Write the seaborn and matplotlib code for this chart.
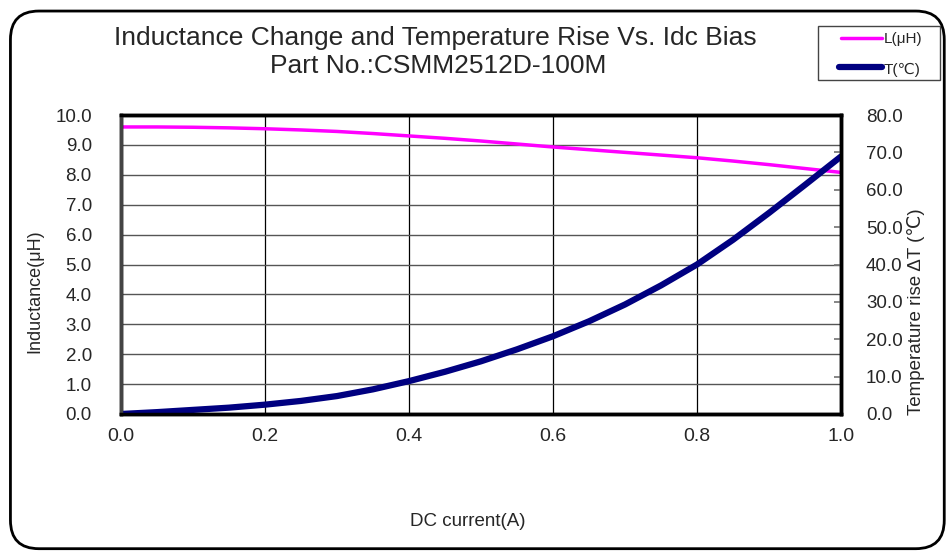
import matplotlib
matplotlib.use("Agg")
import matplotlib.pyplot as plt
import seaborn as sns
import pandas as pd
from matplotlib.patches import FancyBboxPatch, Rectangle
from matplotlib.lines import Line2D

current = [0.00, 0.05, 0.10, 0.15, 0.20, 0.25, 0.30, 0.35, 0.40, 0.45, 0.50,
           0.55, 0.60, 0.65, 0.70, 0.75, 0.80, 0.85, 0.90, 0.95, 1.00]
inductance = [9.60, 9.60, 9.59, 9.57, 9.54, 9.50, 9.45, 9.38, 9.30, 9.22, 9.13,
              9.03, 8.93, 8.84, 8.75, 8.66, 8.57, 8.46, 8.34, 8.21, 8.08]
temp_rise = [0.0, 0.5, 1.1, 1.7, 2.5, 3.5, 4.8, 6.6, 8.8, 11.3, 14.1,
             17.3, 20.8, 24.8, 29.3, 34.4, 40.0, 46.6, 53.8, 61.3, 68.9]

x_ticks = [0.0, 0.2, 0.4, 0.6, 0.8, 1.0]
l_ticks = [0, 1, 2, 3, 4, 5, 6, 7, 8, 9, 10]
t_ticks = [0, 10, 20, 30, 40, 50, 60, 70, 80]

df = pd.DataFrame({"I": current, "L": inductance, "T": temp_rise})

sns.set_theme(style="white")
plt.rcParams['font.family'] = ['Liberation Sans', 'DejaVu Sans']
NARROW = ['Liberation Sans Narrow', 'Liberation Sans', 'DejaVu Sans']

W, H = 949, 552
fig = plt.figure(figsize=(W / 100, H / 100), dpi=100)
border = FancyBboxPatch((0.011, 0.006), 0.984, 0.974, boxstyle="round,pad=0,rounding_size=0.03",
                        transform=fig.transFigure, fill=False, edgecolor="black", linewidth=2.0,
                        mutation_aspect=W / H)
fig.patches.append(border)

ax = fig.add_axes([121 / W, 1 - 414 / H, 720 / W, 299 / H])
ax2 = ax.twinx()

sns.lineplot(data=df, x="I", y="L", ax=ax, color="#FF00FF", linewidth=2.5, legend=False)
sns.lineplot(data=df, x="I", y="T", ax=ax2, color="#000080", linewidth=4.5, legend=False)

ax.set_xlim(0, 1.0)
ax.set_ylim(0, 10)
ax2.set_ylim(0, 80)
ax.set_xticks(x_ticks)
ax.set_yticks(l_ticks)
ax2.set_yticks(t_ticks)
ax.set_xticklabels([f"{v:.1f}" for v in x_ticks], family=NARROW, fontsize=14)
ax.set_yticklabels([f"{v:.1f}" for v in l_ticks], fontsize=13.5)
ax2.set_yticklabels([f"{v:.1f}" for v in t_ticks], fontsize=13.5)
ax.set_xlabel("")
ax.set_ylabel("")
ax2.set_ylabel("")

for x in x_ticks[1:-1]:
    ax.axvline(x, color="black", linewidth=0.9, zorder=0)
for y in l_ticks[1:-1]:
    ax.axhline(y, color="#555555", linewidth=1.0, zorder=0)

ax.tick_params(axis="y", length=0, pad=21)
ax.tick_params(axis="x", length=0, pad=10)
ax2.tick_params(axis="y", direction="in", length=5, pad=18, color="#777777")

for s in ax.spines.values():
    s.set_linewidth(2.5)
    s.set_color("black")
for s in ax2.spines.values():
    s.set_linewidth(2.5)
    s.set_color("black")
ax2.spines["left"].set_color("#444444")

fig.text(468 / W, 1 - 522 / H, "DC current(A)", ha="center", va="center", fontsize=13.5, family=NARROW)
fig.text(35 / W, 1 - 291 / H, "Inductance(μH)", ha="center", va="center", rotation=90,
         fontsize=13, family=NARROW)
fig.text(916 / W, 1 - 312 / H, "Temperature rise ΔT (℃)", ha="center", va="center", rotation=90,
         fontsize=13.5, family=['Liberation Sans', 'DejaVu Sans'])

fig.text(435 / W, 1 - 38 / H, "Inductance Change and Temperature Rise Vs. Idc Bias",
         ha="center", va="center", fontsize=19)
fig.text(438 / W, 1 - 66 / H, "Part No.:CSMM2512D-100M", ha="center", va="center", fontsize=19)

# legend box
fig.patches.append(Rectangle((818 / W, 1 - 80 / H), 122 / W, 54 / H, transform=fig.transFigure,
                             fill=False, edgecolor="#444444", linewidth=1.0))
fig.lines.append(Line2D([841 / W, 882 / W], [1 - 38 / H, 1 - 38 / H], transform=fig.transFigure,
                        color="#FF00FF", linewidth=2.5))
fig.lines.append(Line2D([839 / W, 882 / W], [1 - 67 / H, 1 - 67 / H], transform=fig.transFigure,
                        color="#000080", linewidth=4.5, solid_capstyle="round"))
fig.text(884 / W, 1 - 39 / H, "L(μH)", ha="left", va="center", fontsize=11)
fig.text(884 / W, 1 - 70 / H, "T(℃)", ha="left", va="center", fontsize=11,
         family=['Liberation Sans', 'DejaVu Sans'])

fig.savefig("out.png", dpi=100)
